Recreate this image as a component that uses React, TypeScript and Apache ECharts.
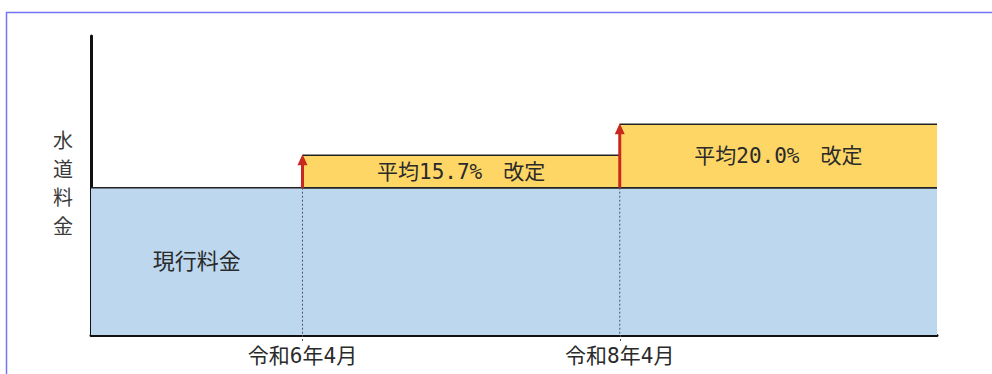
import React, { useEffect, useRef } from "react";
import * as echarts from "echarts";

// ---- data ----
const xTickValues = [25, 62.5];
const xTickLabels = ["令和6年4月", "令和8年4月"];
const currentLevel = 100;
const currentLabel = "現行料金";
const revisionStarts = [25, 62.5];
const revisionEnds = [62.5, 100];
const revisionLevels = [122, 143];
const revisionLabels = ["平均15.7%　改定", "平均20.0%　改定"];
const yAxisTitle = ["水", "道", "料", "金"];

const FONT = '"DejaVu Sans Mono", "Noto Sans CJK JP", sans-serif';

export default function App() {
  const ref = useRef<HTMLDivElement>(null);
  useEffect(() => {
    if (!ref.current) return;
    const chart = echarts.init(ref.current, null, { renderer: "svg" });

    const revisionData = revisionStarts.map((s, i) => [s, revisionEnds[i], revisionLevels[i], i]);

    const option: any = {
      animation: false,
      backgroundColor: "#ffffff",
      grid: { left: 91, right: 55, top: 36, bottom: 39, containLabel: false },
      xAxis: {
        type: "value",
        min: 0,
        max: 100,
        axisLine: { show: true, onZero: false, lineStyle: { color: "#111", width: 3 } },
        axisTick: {
          show: true,
          customValues: xTickValues,
          length: 8,
          lineStyle: { color: "#445", width: 1, type: [2, 2] },
        },
        axisLabel: {
          show: true,
          customValues: xTickValues,
          margin: 10,
          fontSize: 21,
          color: "#2a2a2a",
          fontFamily: FONT,
          formatter: (v: number) => {
            const i = xTickValues.indexOf(v);
            return i >= 0 ? xTickLabels[i] : "";
          },
        },
        splitLine: { show: false },
      },
      yAxis: {
        type: "value",
        min: 0,
        max: 203,
        axisLine: { show: true, lineStyle: { color: "#111", width: 3 } },
        axisTick: { show: false },
        axisLabel: { show: false },
        splitLine: { show: false },
      },
      graphic: [
        {
          type: "rect",
          shape: { x: 6.5, y: 12.5, width: 1100, height: 500 },
          style: { fill: "none", stroke: "#7474f6", lineWidth: 1.5 },
          silent: true,
          z: 100,
        },
        {
          type: "text",
          x: 63,
          y: 184,
          style: {
            text: yAxisTitle.join("\n"),
            textAlign: "center",
            textVerticalAlign: "middle",
            lineHeight: 28.5,
            font: `20px ${FONT}`,
            fill: "#3a3a3a",
          },
        },
      ],
      series: [
        {
          type: "custom",
          name: "current",
          z: 2,
          data: [[0, 100, currentLevel]],
          renderItem: (params: any, api: any) => {
            const x0 = api.value(0), x1 = api.value(1), lvl = api.value(2);
            const p0 = api.coord([x0, lvl]);
            const p1 = api.coord([x1, 0]);
            const lblPt = api.coord([(x0 + xTickValues[0]) / 2, lvl * 0.5]);
            return {
              type: "group",
              children: [
                {
                  type: "rect",
                  shape: { x: p0[0], y: p0[1], width: p1[0] - p0[0], height: p1[1] - p0[1] },
                  style: { fill: "#bdd7ee" },
                },
                {
                  type: "line",
                  shape: { x1: p0[0], y1: p0[1], x2: p1[0], y2: p0[1] },
                  style: { stroke: "#222", lineWidth: 1.5 },
                },
                {
                  type: "text",
                  x: lblPt[0],
                  y: lblPt[1],
                  style: {
                    text: currentLabel,
                    textAlign: "center",
                    textVerticalAlign: "middle",
                    font: `22px ${FONT}`,
                    fill: "#2a2a2a",
                  },
                },
              ],
            };
          },
        },
        {
          type: "custom",
          name: "revision",
          z: 3,
          data: revisionData,
          renderItem: (params: any, api: any) => {
            const x0 = api.value(0), x1 = api.value(1), lvl = api.value(2);
            const i = api.value(3);
            const tl = api.coord([x0, lvl]);
            const br = api.coord([x1, currentLevel]);
            const bottom = api.coord([x0, 0]);
            const cx = (tl[0] + br[0]) / 2;
            const cy = (tl[1] + br[1]) / 2;
            return {
              type: "group",
              children: [
                {
                  type: "rect",
                  shape: { x: tl[0], y: tl[1], width: br[0] - tl[0], height: br[1] - tl[1] },
                  style: { fill: "#fdd665" },
                },
                {
                  type: "line",
                  shape: { x1: tl[0], y1: tl[1], x2: br[0], y2: tl[1] },
                  style: { stroke: "#222", lineWidth: 1.5 },
                },
                {
                  type: "line",
                  shape: { x1: tl[0], y1: br[1], x2: br[0], y2: br[1] },
                  style: { stroke: "#222", lineWidth: 1.5 },
                },
                {
                  type: "line",
                  shape: { x1: tl[0], y1: br[1], x2: tl[0], y2: bottom[1] },
                  style: { stroke: "#556", lineWidth: 1, lineDash: [2, 2] },
                },
                {
                  type: "line",
                  shape: { x1: tl[0], y1: br[1], x2: tl[0], y2: tl[1] + 9 },
                  style: { stroke: "#c8281e", lineWidth: 3 },
                },
                {
                  type: "polygon",
                  shape: {
                    points: [
                      [tl[0], tl[1] - 1],
                      [tl[0] - 5, tl[1] + 10],
                      [tl[0] + 5, tl[1] + 10],
                    ],
                  },
                  style: { fill: "#c8281e" },
                },
                {
                  type: "text",
                  x: cx,
                  y: cy,
                  style: {
                    text: revisionLabels[i],
                    textAlign: "center",
                    textVerticalAlign: "middle",
                    font: `21px ${FONT}`,
                    fill: "#2a2a2a",
                  },
                },
              ],
            };
          },
        },
      ],
    };
    chart.setOption(option);
    return () => chart.dispose();
  }, []);
  return (
    <div
      ref={ref}
      style={{ position: "fixed", left: 0, top: 0, width: 992, height: 374 }}
    />
  );
}
